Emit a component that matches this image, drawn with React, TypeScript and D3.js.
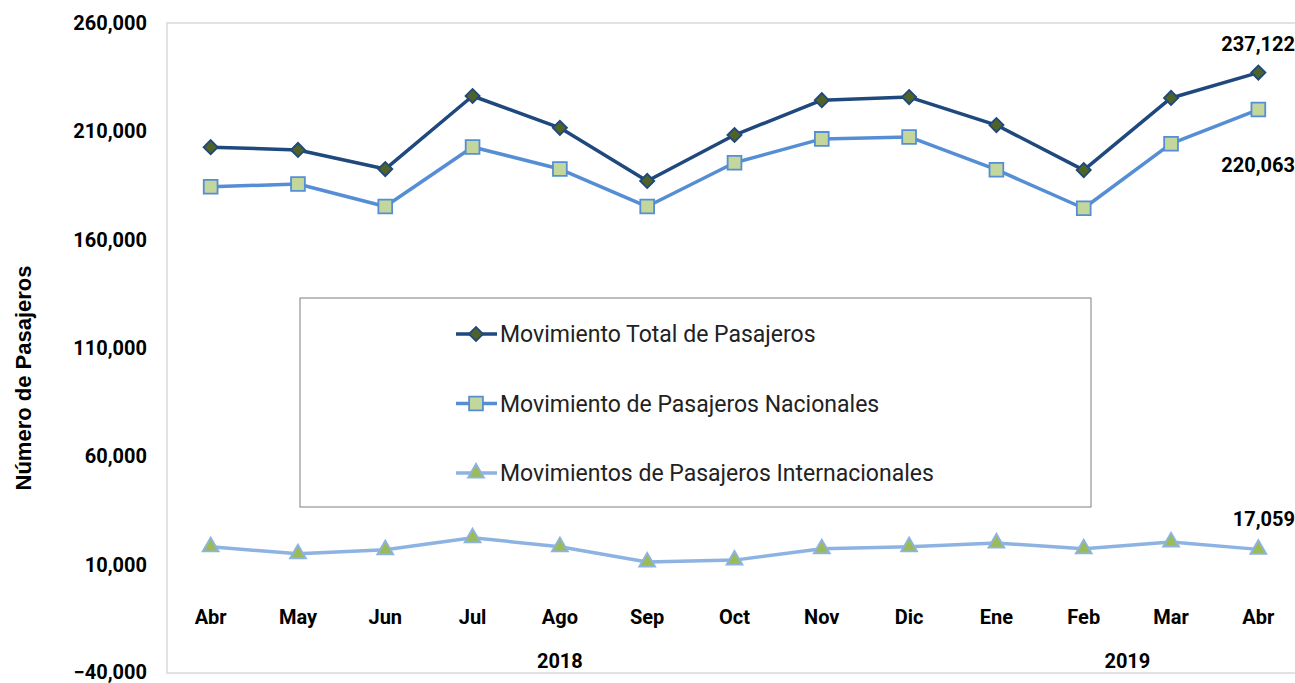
import React, { useEffect, useRef } from 'react';
import * as d3 from 'd3';

const months = ['Abr', 'May', 'Jun', 'Jul', 'Ago', 'Sep', 'Oct', 'Nov', 'Dic', 'Ene', 'Feb', 'Mar', 'Abr'];
const total = [202700, 201400, 192600, 226300, 211600, 187100, 208300, 224400, 225800, 212900, 192100, 225400, 237122];
const nacionales = [184400, 185700, 175300, 202800, 192600, 175300, 195500, 206500, 207400, 192300, 174500, 204300, 220063];
const internacionales = [18300, 15000, 16900, 22400, 18300, 11200, 12100, 17300, 18300, 20000, 17300, 20500, 17059];
const yTicks = [-40000, 10000, 60000, 110000, 160000, 210000, 260000];
const years = [{ label: '2018', at: 4 }, { label: '2019', at: 10.5 }];

const W = 1295, H = 683;

export default function App() {
  const ref = useRef<SVGSVGElement>(null);

  useEffect(() => {
    const svg = d3.select(ref.current);
    svg.selectAll('*').remove();

    const x = d3.scaleLinear().domain([-0.5, 12.5]).range([167, 1302]);
    const y = d3.scaleLinear().domain([-40000, 260000]).range([673, 23]);
    const fmt = d3.format(',');
    const tickFont = 'Roboto, sans-serif';

    // plot frame
    svg.append('rect')
      .attr('x', 167).attr('y', 23)
      .attr('width', 1302 - 167).attr('height', 673 - 23)
      .attr('fill', 'none').attr('stroke', '#d9d9d9').attr('stroke-width', 1.5);

    // y ticks
    svg.append('g').selectAll('text')
      .data(yTicks).enter().append('text')
      .attr('x', 147).attr('y', d => Math.min(y(d) + 7, 679))
      .attr('text-anchor', 'end')
      .attr('font-family', tickFont).attr('font-weight', 700).attr('font-size', 20)
      .attr('fill', '#000')
      .text(d => fmt(d));

    svg.append('text')
      .attr('transform', 'translate(31,378) rotate(-90)')
      .attr('text-anchor', 'middle')
      .attr('font-family', 'Liberation Sans, Arial, sans-serif')
      .attr('font-weight', 700).attr('font-size', 22)
      .text('Número de Pasajeros');

    // x labels
    svg.append('g').selectAll('text')
      .data(months).enter().append('text')
      .attr('x', (d, i) => x(i)).attr('y', 624)
      .attr('text-anchor', 'middle')
      .attr('font-family', tickFont).attr('font-weight', 700).attr('font-size', 20)
      .text(d => d);

    svg.append('g').selectAll('text')
      .data(years).enter().append('text')
      .attr('x', d => x(d.at)).attr('y', 668)
      .attr('text-anchor', 'middle')
      .attr('font-family', tickFont).attr('font-weight', 700).attr('font-size', 20)
      .text(d => d.label);

    const line = d3.line<number>().x((d, i) => x(i)).y(d => y(d));

    const series = [
      { name: 'Movimiento Total de Pasajeros', values: total, stroke: '#1f497d', fill: '#4f6228', mstroke: '#1f497d', sym: d3.symbolSquare, size: 100, rot: 45 },
      { name: 'Movimiento de Pasajeros Nacionales', values: nacionales, stroke: '#558ed5', fill: '#c3d69b', mstroke: '#558ed5', sym: d3.symbolSquare, size: 190, rot: 0 },
      { name: 'Movimientos de Pasajeros Internacionales', values: internacionales, stroke: '#8db3e2', fill: '#9bbb59', mstroke: '#8db3e2', sym: d3.symbolTriangle, size: 110, rot: 0 },
    ];

    series.forEach(s => {
      svg.append('path')
        .datum(s.values)
        .attr('d', line)
        .attr('fill', 'none').attr('stroke', s.stroke).attr('stroke-width', 3.5)
        .attr('stroke-linejoin', 'round');
      svg.append('g').selectAll('path')
        .data(s.values).enter().append('path')
        .attr('transform', (d, i) => `translate(${x(i)},${y(d)}) rotate(${s.rot})`)
        .attr('d', d3.symbol().type(s.sym).size(s.size)())
        .attr('fill', s.fill).attr('stroke', s.mstroke).attr('stroke-width', 1.8);
    });

    // data labels on last point
    const last = months.length - 1;
    const labels = [
      { v: total[last], dy: -22 },
      { v: nacionales[last], dy: 62 },
      { v: internacionales[last], dy: -23 },
    ];
    svg.append('g').selectAll('text')
      .data(labels).enter().append('text')
      .attr('x', 1295).attr('y', d => y(d.v) + d.dy)
      .attr('text-anchor', 'end')
      .attr('font-family', tickFont).attr('font-weight', 700).attr('font-size', 20)
      .text(d => fmt(d.v));

    // legend
    const lg = svg.append('g');
    lg.append('rect')
      .attr('x', 300).attr('y', 298).attr('width', 791).attr('height', 209)
      .attr('fill', '#fff').attr('stroke', '#7f7f7f').attr('stroke-width', 1);
    series.forEach((s, i) => {
      const cy = 334 + i * 69.5;
      lg.append('line')
        .attr('x1', 456).attr('x2', 497).attr('y1', cy).attr('y2', cy)
        .attr('stroke', s.stroke).attr('stroke-width', 3.5);
      lg.append('path')
        .attr('transform', `translate(476,${cy}) rotate(${s.rot})`)
        .attr('d', d3.symbol().type(s.sym).size(s.size)())
        .attr('fill', s.fill).attr('stroke', s.mstroke).attr('stroke-width', 1.8);
      lg.append('text')
        .attr('x', 500).attr('y', cy + 8)
        .attr('font-family', tickFont).attr('font-size', 23).attr('fill', '#222')
        .text(s.name);
    });
  }, []);

  return (
    <svg ref={ref} width={W} height={H}
      style={{ position: 'absolute', left: 0, top: 0, background: '#fff' }} />
  );
}
